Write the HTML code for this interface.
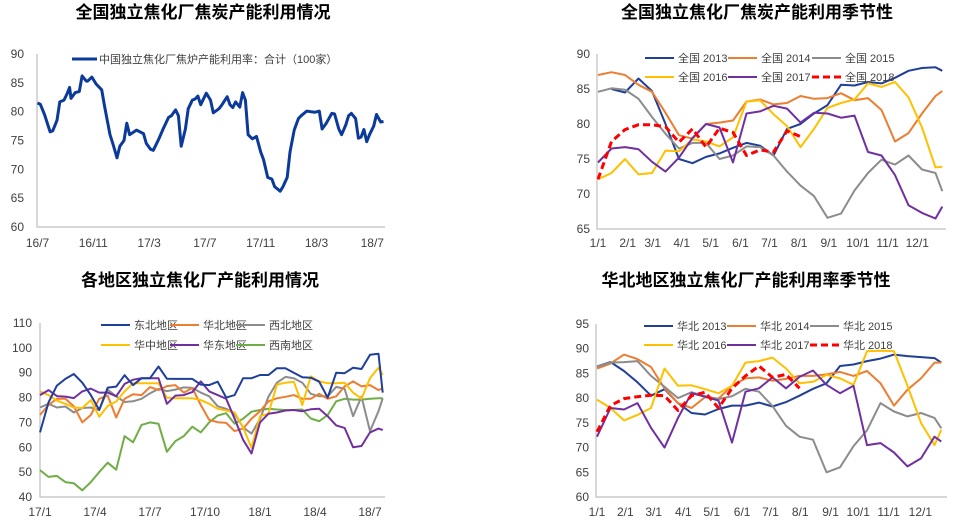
<!DOCTYPE html>
<html><head><meta charset="utf-8">
<style>
html,body{margin:0;padding:0;background:#fff;}
svg{display:block;font-family:"Liberation Sans","Noto Sans CJK SC",sans-serif;}
.t{font-weight:bold;font-size:17px;fill:#000;}
.tick{font-size:12px;fill:#404040;}
.leg{font-size:11px;fill:#404040;}
</style></head><body>
<svg id="s" width="969" height="523" viewBox="0 0 969 523">
<text class="t" x="203" y="18" text-anchor="middle">全国独立焦化厂焦炭产能利用情况</text>
<text class="t" x="757" y="18" text-anchor="middle">全国独立焦化厂焦炭产能利用季节性</text>
<text class="t" x="200" y="286" text-anchor="middle">各地区独立焦化厂产能利用情况</text>
<text class="t" x="746" y="286" text-anchor="middle">华北地区独立焦化厂产能利用率季节性</text>
</svg>
<script>
// ---------- Chart 1 data ----------
const c1Months=[0,0.2,0.5,0.9,1.1,1.4,1.6,1.9,2.1,2.3,2.4,2.7,3.0,3.2,3.5,3.6,3.9,4.2,4.6,4.8,5.2,5.4,5.7,5.9,6.2,6.4,6.6,7.1,7.6,7.8,8.1,8.3,8.7,9.0,9.4,9.6,9.9,10.1,10.3,10.6,10.8,11.1,11.3,11.5,11.7,12.1,12.4,12.6,13.0,13.2,13.6,13.8,14.0,14.2,14.5,14.7,14.9,15.1,15.4,15.7,16.0,16.2,16.5,16.8,17.0,17.4,17.6,17.9,18.1,18.4,18.7,18.9,19.3,19.6,19.9,20.2,20.4,20.7,21.1,21.3,21.6,21.8,22.1,22.3,22.5,22.8,23.0,23.2,23.4,23.6,23.8,24.1,24.3,24.6,24.8];
const c1Values=[81.5,81.3,79.5,76.5,76.7,78.5,81.7,82,83,84.2,82.3,83.3,83.5,86.2,85.3,85.3,86,84.8,83.8,81,76,74.5,72,74,75,78,76,76.8,76.2,74.5,73.5,73.3,75.3,77,79,79.3,80.3,79.3,74,77,80.5,82,82.2,82.7,81.2,83.2,82,79.8,80.5,81.1,82.6,81.2,80.7,81.7,80.8,83.3,82,76,75.3,75.7,73,71.7,68.6,68.3,67,66.2,67,68.6,73,76.8,78.8,79.3,80.1,80,79.9,80.1,77,78,79.7,79.6,77,76,77.7,79.3,79.7,78.8,75.4,75.6,76.9,74.8,76,77.5,79.5,78.2,78.3];
const c1YTicks=[60,65,70,75,80,85,90];
const c1XLabels=["16/7","16/11","17/3","17/7","17/11","18/3","18/7"];
const c1XLabelMonths=[0,4,8,12,16,20,24];

// ---------- Chart 2 data (weeks of year) ----------
const wk=[0,2,4,6,8,10,12,14,16,18,20,22,24,26,28,30,32,34,36,38,40,42,44,46,48,50,51];
const n2013=[null,85.0,84.5,86.5,84.7,80,75,74.4,75.3,75.8,76.6,77.3,76.9,75.5,79.3,80.0,81.5,82.7,85.6,85.5,86.0,85.8,86.6,87.6,88.0,88.1,87.6];
const n2014=[87.0,87.4,87.0,85.6,84.6,81.6,78.4,77.9,80.0,80.2,80.5,83.2,83.5,82.8,83.0,84.0,83.6,83.7,84.4,83.4,83.7,82.0,77.5,78.7,81.5,84.0,84.7];
const n2015=[84.6,85.1,84.9,83.6,81.0,78.6,76.5,77.3,77.3,75.0,75.5,76.8,76.7,75.5,73.2,71.2,69.7,66.6,67.2,70.5,73.0,74.9,74.2,75.5,73.5,73.0,70.4];
const n2016=[72.1,73.0,75.0,72.8,73.0,76.2,76.1,77.8,77.5,76.8,78.1,83.2,83.4,81.4,79.7,76.7,79.3,82.3,83.0,83.5,85.8,85.3,86.0,83.8,79.5,73.8,73.9];
const n2017=[74.5,76.5,76.7,76.4,74.6,73.2,75.2,78.0,80.0,79.5,74.5,81.5,81.8,82.6,82.2,80.2,81.6,81.5,80.9,81.2,76.0,75.5,72.7,68.4,67.3,66.5,68.2];
const n2018=[72.1,77.5,79.2,79.9,79.9,79.6,77.4,79.3,76.7,79.4,78.8,75.5,76.3,76.0,79.0,78.2];
const c2YTicks=[65,70,75,80,85,90];
const seasonLabels=["1/1","2/1","3/1","4/1","5/1","6/1","7/1","8/1","9/1","10/1","11/1","12/1"];

// ---------- Chart 3 data (weeks since 17/1) ----------
const c3Weeks=[0,2,4,6,8,10,12,14,16,18,20,22,24,26,28,30,32,34,36,38,40,42,44,46,48,50,52,54,56,58,60,62,64,66,68,70,72,74,76,78,80,81];
const rNE=[66,78,84.8,87.5,89.5,86.0,81.0,75.0,84.0,84.4,89.0,85.0,87.8,87.8,92.5,87.6,87.5,87.5,87.5,85.2,85.0,86.4,80.0,81.0,87.8,87.8,89.1,89.1,91.8,91.8,90.0,88.2,88.0,86.4,80.0,90.0,89.8,92.0,91.5,97.2,97.6,82];
const rN=[73,77,79.5,79.5,76.5,70.0,73.0,79.5,80.8,72,79.5,81.3,81.0,84.2,83.0,84.6,85.0,82.0,83.8,77,71,70.1,69.8,66.5,67.5,71.5,74.5,78.5,79.7,80.3,81.0,79.5,79.5,81.5,79.5,80.5,84.5,86.5,84.5,85.0,83.0,83.8];
const rNW=[76,77.5,76,76.4,74,75.8,76,75,83.2,80.5,78.2,78.5,79.5,81.7,83.5,82.6,83.2,84.1,83.9,82.0,80.5,76.5,75.5,73.5,68,65.5,71.4,80.4,86.0,88.3,87.8,86.0,81.5,80.5,80.5,84.3,83.5,72.5,80.4,66.5,74.5,79.7];
const rC=[82.4,81,78.8,77.5,76,75.8,79,72.3,76.6,78.4,82.5,85.8,85.8,85.8,85.8,80.0,79.7,79.7,79.7,79.0,77.5,75.5,74.8,74.0,68,59.8,72.5,73.5,85.2,86.0,86.4,77.0,88.5,86.5,85.8,85.8,86.0,82.0,79.5,87.8,92.0,89.1];
const rE=[81,83,80.6,80.4,79.8,82.5,83.6,82,82,80.5,85.5,87.2,87.8,87.8,87.8,77.5,80.8,81.0,82.2,86.5,82.5,81.0,79.5,71.5,63,57.5,70.0,73.5,74.0,74.8,75.0,74.5,75.3,75.5,72.5,68.8,67.8,60,60.5,66,67.5,66.9];
const rSW=[50.8,48.1,48.5,46,45.5,42.7,46,50,53.8,51,64.5,62,69,70,69.5,58.2,62.5,64.5,68.3,66,70,72.8,73.7,69.5,71.5,74.3,75,75.5,75.2,75,75,75.2,71.6,70.5,73,78.5,79.5,79.2,79.2,79.5,79.7,79.7];
const c3YTicks=[40,50,60,70,80,90,100,110];
const c3XLabels=["17/1","17/4","17/7","17/10","18/1","18/4","18/7"];
const c3XLabelWeeks=[0,13,26,39,52,65,78];

// ---------- Chart 4 data ----------
const h2013=[86.4,87.3,85.5,83.2,80.5,81.8,79.0,77.0,76.7,77.8,78.5,78.5,79.1,78.3,79.2,80.5,81.9,83.0,86.5,86.8,87.5,88.0,88.8,88.5,88.3,88.1,87.2];
const h2014=[86.0,87.0,88.8,87.9,86.3,82.0,79.0,78.0,80.2,79.9,82.5,84.0,84.2,83.5,83.9,84.5,84.5,84.8,85.3,84.5,85.5,83.0,78.5,81.7,84.0,87.2,87.2];
const h2015=[86.4,87.2,87.3,87.5,84.5,82.3,80.0,81.2,80.4,79.8,80.4,81.9,81.3,78.4,74.4,72.2,71.6,65.0,66.0,70.3,73.5,79.0,77.3,76.3,77.0,76.0,73.9];
const h2016=[79.7,78.0,75.5,76.6,78.0,86.0,82.5,82.6,81.8,81.0,82.5,87.2,87.5,88.2,86.0,83.0,83.3,84.7,84.0,82.7,89.5,89.6,89.5,82.5,75.0,70.5,73.6];
const h2017=[72.2,78.0,77.7,79.0,74.0,70.0,76.0,81.0,80.3,79.5,71.0,81.3,82.0,84.2,82.0,84.3,85.6,82.7,81.0,82.5,70.5,70.9,69.0,66.2,67.8,72.2,71.2];
const h2018=[73.2,78.5,79.9,80.3,80.6,80.5,77.5,80.5,81.2,78.0,82.0,84.5,86.5,84.2,84.8,82.0];
const c4YTicks=[60,65,70,75,80,85,90,95];

const NS='http://www.w3.org/2000/svg';
const svg=document.getElementById('s');
function mk(tag,attrs,parent){const e=document.createElementNS(NS,tag);for(const k in attrs)e.setAttribute(k,attrs[k]);(parent||svg).appendChild(e);return e;}
function lin(d0,d1,r0,r1){return v=>r0+(v-d0)*(r1-r0)/(d1-d0);}
function pathD(xs,ys,X,Y){let d='',pen=false;for(let i=0;i<ys.length;i++){if(ys[i]==null){pen=false;continue;}d+=(pen?'L':'M')+X(xs[i]).toFixed(1)+' '+Y(ys[i]).toFixed(1);pen=true;}return d;}
function axes(g,x0,x1,yTop,yBot,name){
  const a=mk('path',{d:`M${x0} ${yTop}V${yBot}H${x1}`,stroke:'#bfbfbf','stroke-width':1.2,fill:'none'},g);
  
  
}
function yTicks(g,ticks,Y,xr,name){
  ticks.forEach(t=>{const e=mk('text',{x:xr,y:Y(t)+4,'text-anchor':'end',class:'tick'},g);e.textContent=t;
    
    });
}
function xLabels(g,labels,pos,X,y,name){
  labels.forEach((l,i)=>{const e=mk('text',{x:X(pos[i]),y:y,'text-anchor':'middle',class:'tick'},g);e.textContent=l;
    
    });
}
function series(g,xs,ys,X,Y,color,w,dash,name){
  const p=mk('path',{d:pathD(xs,ys,X,Y),stroke:color,'stroke-width':w,fill:'none','stroke-linejoin':'round'},g);
  if(dash)p.setAttribute('stroke-dasharray',dash);
  
  
}
function legend(g,x,y,color,w,dash,label,name){
  const l=mk('line',{x1:x,y1:y,x2:x+29,y2:y,stroke:color,'stroke-width':w},g);
  if(dash)l.setAttribute('stroke-dasharray',dash);
  
  
  const t=mk('text',{x:x+33,y:y+4,class:'leg'},g);t.textContent=label;
  
  
}
const BLUE='#1f3f99',OR='#ed7d31',GR='#8c8c8c',YE='#ffc000',PU='#7030a0',RD='#ff0000',GN='#70ad47';

// Chart 1
{const g=mk('g',{});
 const X=lin(0,24,37.5,372.3),Y=lin(60,90,227,54);
 axes(g,37,385,54,227,'c1');yTicks(g,c1YTicks,Y,24,'c1');
 xLabels(g,c1XLabels,c1XLabelMonths,X,247,'c1');
 series(g,c1Months,c1Values,X,Y,'#0b3a9a',3,null,'line-national-total');
 const l=mk('line',{x1:72,y1:59,x2:97,y2:59,stroke:'#0b3a9a','stroke-width':3},g);
 
 const t=mk('text',{x:99,y:63,class:'leg'},g);t.textContent='中国独立焦化厂焦炉产能利用率：合计（100家）';
 }

// Chart 2
{const g=mk('g',{});
 const X=lin(0,52,598,949),Y=lin(65,90,229,54);
 axes(g,597,946,54,229,'c2');yTicks(g,c2YTicks,Y,590,'c2');
 xLabels(g,seasonLabels,[0,4.4,8.1,12.4,16.7,21.1,25.4,29.8,34.2,38.5,42.9,47.3],X,247,'c2');
 series(g,wk,n2013,X,Y,BLUE,2,null,'line-2013');
 series(g,wk,n2014,X,Y,OR,2,null,'line-2014');
 series(g,wk,n2015,X,Y,GR,2,null,'line-2015');
 series(g,wk,n2016,X,Y,YE,2,null,'line-2016');
 series(g,wk,n2017,X,Y,PU,2,null,'line-2017');
 series(g,wk,n2018,X,Y,RD,3,'7 4','line-2018');
 legend(g,645,58,BLUE,2,null,'全国 2013','legend-2013');
 legend(g,728,58,OR,2,null,'全国 2014','legend-2014');
 legend(g,812,58,GR,2,null,'全国 2015','legend-2015');
 legend(g,645,77,YE,2,null,'全国 2016','legend-2016');
 legend(g,728,77,PU,2,null,'全国 2017','legend-2017');
 legend(g,812,77,RD,3,'7 4','全国 2018','legend-2018');}

// Chart 3
{const g=mk('g',{});
 const X=lin(0,78,40,370),Y=lin(40,110,497,323);
 axes(g,40,385,323,497,'c3');yTicks(g,c3YTicks,Y,32,'c3');
 xLabels(g,c3XLabels,c3XLabelWeeks,X,516,'c3');
 series(g,c3Weeks,rSW,X,Y,GN,2,null,'line-southwest');
 series(g,c3Weeks,rNW,X,Y,GR,2,null,'line-northwest');
 series(g,c3Weeks,rN,X,Y,OR,2,null,'line-north');
 series(g,c3Weeks,rC,X,Y,YE,2,null,'line-central');
 series(g,c3Weeks,rE,X,Y,PU,2,null,'line-east');
 series(g,c3Weeks,rNE,X,Y,BLUE,2,null,'line-northeast');
 legend(g,101,325,BLUE,2,null,'东北地区','legend-northeast');
 legend(g,170,325,OR,2,null,'华北地区','legend-north');
 legend(g,236,325,GR,2,null,'西北地区','legend-northwest');
 legend(g,101,345,YE,2,null,'华中地区','legend-central');
 legend(g,170,345,PU,2,null,'华东地区','legend-east');
 legend(g,236,345,GN,2,null,'西南地区','legend-southwest');}

// Chart 4
{const g=mk('g',{});
 const X=lin(0,52,597,948),Y=lin(60,95,497,324);
 axes(g,596,947,324,497,'c4');yTicks(g,c4YTicks,Y,589,'c4');
 xLabels(g,seasonLabels,[0,4.2,8.4,12.8,17.0,21.5,25.7,30.1,34.6,38.7,43.2,47.9],X,516,'c4');
 series(g,wk,h2013,X,Y,BLUE,2,null,'line-north-2013');
 series(g,wk,h2014,X,Y,OR,2,null,'line-north-2014');
 series(g,wk,h2015,X,Y,GR,2,null,'line-north-2015');
 series(g,wk,h2016,X,Y,YE,2,null,'line-north-2016');
 series(g,wk,h2017,X,Y,PU,2,null,'line-north-2017');
 series(g,wk,h2018,X,Y,RD,3,'7 4','line-north-2018');
 legend(g,644,326,BLUE,2,null,'华北 2013','legend-north-2013');
 legend(g,727,326,OR,2,null,'华北 2014','legend-north-2014');
 legend(g,810,326,GR,2,null,'华北 2015','legend-north-2015');
 legend(g,644,345,YE,2,null,'华北 2016','legend-north-2016');
 legend(g,727,345,PU,2,null,'华北 2017','legend-north-2017');
 legend(g,810,345,RD,3,'7 4','华北 2018','legend-north-2018');}
</script>
</body></html>
